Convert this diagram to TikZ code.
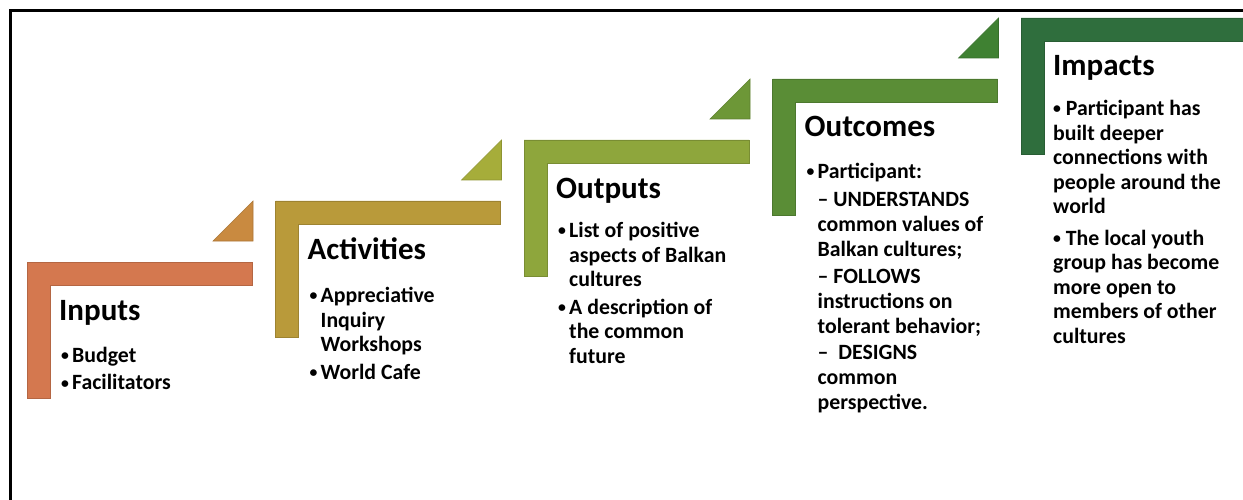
\documentclass[tikz,border=0pt]{standalone}
\usepackage{fontspec}
\setmainfont{Carlito}
\usepackage{tikz}
\usetikzlibrary{positioning}
\definecolor{cInputs}{HTML}{D4784F}
\definecolor{cActivities}{HTML}{B99A3A}
\definecolor{cOutputs}{HTML}{8EA63C}
\definecolor{cOutcomes}{HTML}{5A8D36}
\definecolor{cImpacts}{HTML}{2F6E3D}
\definecolor{tInputs}{HTML}{C98A40}
\definecolor{tActivities}{HTML}{A6AD3A}
\definecolor{tOutputs}{HTML}{6D9737}
\definecolor{tOutcomes}{HTML}{3F8132}
\newcommand\smbul{\raisebox{1.6pt}{\scalebox{0.72}{•}}}
\newcommand\lstbul{\makebox[13pt][l]{\hspace{2pt}\smbul}}
\newcommand\lstind{\hspace*{13pt}}

\begin{document}
\begin{tikzpicture}[x=1pt,y=-1pt,
  title/.style={anchor=base west,inner sep=0pt,font=\fontsize{31}{36}\selectfont\bfseries},
  list/.style={anchor=north west,inner sep=0pt,align=left,
    font=\fontsize{21.8}{24.5}\selectfont\bfseries,
    execute at begin node=\rule{0pt}{17pt}}]
  \useasboundingbox (0,0) rectangle (1243,500);
  % frame (left and top only)
  \draw[line width=3pt] (10,500) -- (10,11) -- (1243,11);

  % L-shaped brackets, one step = (248.5,-61)
  \foreach \k/\col in {0/cInputs,1/cActivities,2/cOutputs,3/cOutcomes,4/cImpacts}{
    \begin{scope}[shift={(27+248.5*\k,262-61*\k)}]
      \fill[\col,draw=\col!85!black,line width=0.6pt]
        (0,0) -- (225,0) -- (225,23) -- (23,23) -- (23,136) -- (0,136) -- cycle;
    \end{scope}
  }
  % small triangles between the steps
  \foreach \k/\col in {0/tInputs,1/tActivities,2/tOutputs,3/tOutcomes}{
    \begin{scope}[shift={(27+248.5*\k,262-61*\k)}]
      \fill[\col,draw=\col!85!black,line width=0.6pt]
        (186,-21) -- (226,-21) -- (226,-61) -- cycle;
    \end{scope}
  }

  % Inputs
  \node[title] (inputs) at (59,320) {Inputs};
  \node[list] (inputs-list) at (59,347)
    {\lstbul Budget\\[3pt]\lstbul Facilitators};

  % Activities
  \node[title] (activities) at (307.5,259) {Activities};
  \node[list] (activities-list) at (307.5,287)
    {\lstbul Appreciative\\ \lstind Inquiry\\ \lstind Workshops\\[3pt]
     \lstbul World Cafe};

  % Outputs
  \node[title] (outputs) at (556,198) {Outputs};
  \node[list] (outputs-list) at (556,222)
    {\lstbul List of positive\\ \lstind aspects of Balkan\\ \lstind cultures\\[3pt]
     \lstbul A description of\\ \lstind the common\\ \lstind future};

  % Outcomes
  \node[title] (outcomes) at (804.5,137) {Outcomes};
  \node[list,font=\fontsize{21.8}{25}\selectfont\bfseries] (outcomes-list) at (804.5,163)
    {\lstbul Participant:\\[3pt]
     \lstind – UNDERSTANDS\\ \lstind common values of\\ \lstind Balkan cultures;\\[2pt]
     \lstind – FOLLOWS\\ \lstind instructions on\\ \lstind tolerant behavior;\\[1pt]
     \lstind –\ \ DESIGNS\\ \lstind common\\ \lstind perspective.};

  % Impacts
  \node[title] (impacts) at (1053,76) {Impacts};
  \node[list] (impacts-list) at (1053,100)
    {\smbul\ Participant has\\ built deeper\\ connections with\\ people around the\\ world\\[7pt]
     \smbul\ The local youth\\ group has become\\ more open to\\ members of other\\ cultures};
\end{tikzpicture}
\end{document}
